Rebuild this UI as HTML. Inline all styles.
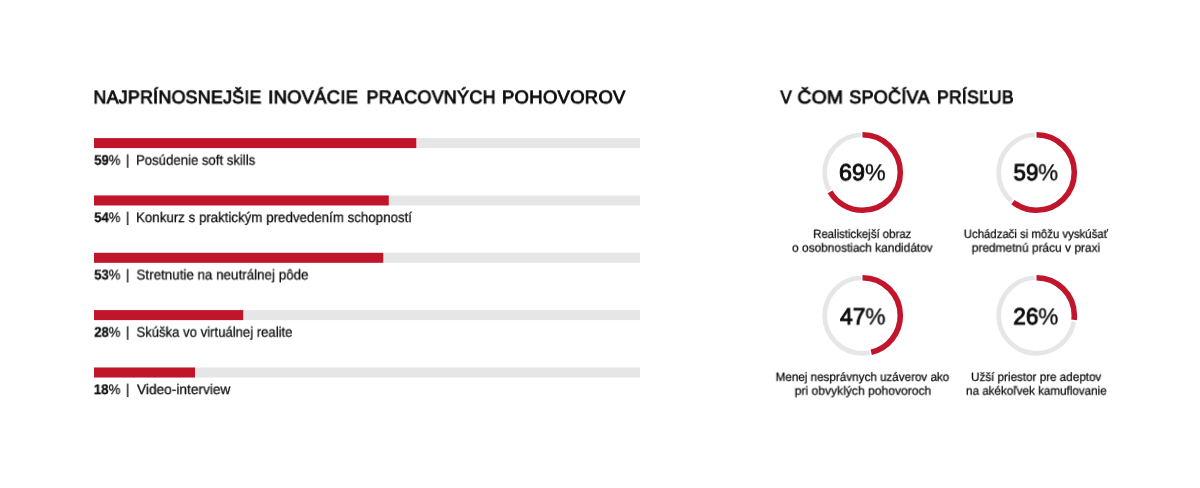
<!DOCTYPE html>
<html lang="sk">
<head>
<meta charset="utf-8">
<title>Inovácie pracovných pohovorov</title>
<style>
  html, body { margin: 0; padding: 0; }
  body { width: 1200px; height: 488px; position: relative; overflow: hidden; background: #ffffff;
         color: #0c0c0c; font-family: "Liberation Sans", sans-serif; }
  .t { position: absolute; white-space: nowrap; line-height: 1; transform-origin: 0 0; color: #0c0c0c; will-change: transform; text-rendering: geometricPrecision; }
  .t b { font-weight: 700; }
  .ti { -webkit-text-stroke: 0.85px #0c0c0c; letter-spacing: 0.3px; }
  .lb { color: #0c0c0c; -webkit-text-stroke: 0.25px #0c0c0c; }
  .lb b { color: #0c0c0c; }
  .cp { color: #0c0c0c; -webkit-text-stroke: 0.25px #0c0c0c; }
  .nu { color: #0c0c0c; -webkit-text-stroke: 0.3px #0c0c0c; }
  .nu b { font-weight: 400; -webkit-text-stroke: 0.95px #0c0c0c; }
  svg { position: absolute; left: 0; top: 0; }
  .txt { position: absolute; left: 0; top: 0; width: 1200px; height: 488px; will-change: transform; }
</style>
</head>
<body>
<svg width="1200" height="488" viewBox="0 0 1200 488">
<rect x="94" y="138.1" width="546" height="10" fill="#e6e6e6"/><rect x="94" y="138.1" width="322.25" height="10" fill="#c1152b"/>
<rect x="94" y="195.45" width="546" height="10" fill="#e6e6e6"/><rect x="94" y="195.45" width="294.75" height="10" fill="#c1152b"/>
<rect x="94" y="252.8" width="546" height="10" fill="#e6e6e6"/><rect x="94" y="252.8" width="289.25" height="10" fill="#c1152b"/>
<rect x="94" y="310.1" width="546" height="10" fill="#e6e6e6"/><rect x="94" y="310.1" width="149.25" height="10" fill="#c1152b"/>
<rect x="94" y="367.5" width="546" height="10" fill="#e6e6e6"/><rect x="94" y="367.5" width="101" height="10" fill="#c1152b"/>
</svg>
<svg width="1200" height="488" viewBox="0 0 1200 488"><g fill="none">
<circle cx="862.5" cy="172.5" r="37.8" stroke="#e6e6e6" stroke-width="4.7" pathLength="100" stroke-dasharray="0 67.10 32.20 100" transform="rotate(-90 862.5 172.5)"/>
<circle cx="862.5" cy="172.5" r="37.8" stroke="#c1152b" stroke-width="5.6" pathLength="100" stroke-dasharray="66.4 100" transform="rotate(-90 862.5 172.5)"/>
<circle cx="1036.5" cy="172.5" r="37.8" stroke="#e6e6e6" stroke-width="4.7" pathLength="100" stroke-dasharray="0 61.40 37.90 100" transform="rotate(-90 1036.5 172.5)"/>
<circle cx="1036.5" cy="172.5" r="37.8" stroke="#c1152b" stroke-width="5.6" pathLength="100" stroke-dasharray="60.7 100" transform="rotate(-90 1036.5 172.5)"/>
<circle cx="862.5" cy="315.5" r="37.8" stroke="#e6e6e6" stroke-width="4.7" pathLength="100" stroke-dasharray="0 47.00 52.30 100" transform="rotate(-90 862.5 315.5)"/>
<circle cx="862.5" cy="315.5" r="37.8" stroke="#c1152b" stroke-width="5.6" pathLength="100" stroke-dasharray="46.3 100" transform="rotate(-90 862.5 315.5)"/>
<circle cx="1036.5" cy="315.5" r="37.8" stroke="#e6e6e6" stroke-width="4.7" pathLength="100" stroke-dasharray="0 27.60 71.70 100" transform="rotate(-90 1036.5 315.5)"/>
<circle cx="1036.5" cy="315.5" r="37.8" stroke="#c1152b" stroke-width="5.6" pathLength="100" stroke-dasharray="26.9 100" transform="rotate(-90 1036.5 315.5)"/>
</g></svg>
<div class="txt">
<span class="t ti" style="left:93px;top:88px;font-size:18.2px;transform:translate(0.52px,0.30px) skewX(0.01deg) scaleX(0.9765)">NAJPRÍNOSNEJŠIE</span>
<span class="t ti" style="left:268px;top:88px;font-size:18.2px;transform:translate(0.24px,0.30px) skewX(0.01deg) scaleX(1.0086)">INOVÁCIE</span>
<span class="t ti" style="left:366px;top:88px;font-size:18.2px;transform:translate(0.52px,0.30px) skewX(0.01deg) scaleX(0.9845)">PRACOVNÝCH</span>
<span class="t ti" style="left:501px;top:88px;font-size:18.2px;transform:translate(0.99px,0.30px) skewX(0.01deg) scaleX(1.0145)">POHOVOROV</span>
<span class="t ti" style="left:780px;top:88px;font-size:18.2px;transform:translate(0.46px,0.30px) skewX(0.01deg) scaleX(0.9231)">V</span>
<span class="t ti" style="left:797px;top:88px;font-size:18.2px;transform:translate(0.47px,0.30px) skewX(0.01deg) scaleX(1.0602)">ČOM</span>
<span class="t ti" style="left:849px;top:88px;font-size:18.2px;transform:translate(0.25px,0.30px) skewX(0.01deg) scaleX(0.9877)">SPOČÍVA</span>
<span class="t ti" style="left:937px;top:88px;font-size:18.2px;transform:translate(0.04px,0.30px) skewX(0.01deg) scaleX(0.9615)">PRÍSĽUB</span>
<span class="t lb" style="left:94px;top:152px;font-size:14px;transform:translate(0.27px,0.75px) skewX(0.01deg) scaleX(0.9358)"><b>59</b>%</span>
<span class="t lb" style="left:125px;top:152px;font-size:14px;transform:translate(0.75px,0.75px) skewX(0.01deg) scaleX(1.0000)">|</span>
<span class="t lb" style="left:136px;top:152px;font-size:14px;transform:translate(0.06px,0.75px) skewX(0.01deg) scaleX(0.9402)">Posúdenie soft skills</span>
<span class="t lb" style="left:94px;top:210px;font-size:14px;transform:translate(0.27px,0.10px) skewX(0.01deg) scaleX(0.9358)"><b>54</b>%</span>
<span class="t lb" style="left:125px;top:210px;font-size:14px;transform:translate(0.75px,0.10px) skewX(0.01deg) scaleX(1.0000)">|</span>
<span class="t lb" style="left:136px;top:210px;font-size:14px;transform:translate(0.05px,0.10px) skewX(0.01deg) scaleX(0.9507)">Konkurz s praktickým predvedením schopností</span>
<span class="t lb" style="left:94px;top:267px;font-size:14px;transform:translate(0.27px,0.45px) skewX(0.01deg) scaleX(0.9358)"><b>53</b>%</span>
<span class="t lb" style="left:125px;top:267px;font-size:14px;transform:translate(0.75px,0.45px) skewX(0.01deg) scaleX(1.0000)">|</span>
<span class="t lb" style="left:136px;top:267px;font-size:14px;transform:translate(0.52px,0.45px) skewX(0.01deg) scaleX(0.9566)">Stretnutie na neutrálnej pôde</span>
<span class="t lb" style="left:94px;top:324px;font-size:14px;transform:translate(0.27px,0.75px) skewX(0.01deg) scaleX(0.9358)"><b>28</b>%</span>
<span class="t lb" style="left:125px;top:324px;font-size:14px;transform:translate(0.75px,0.75px) skewX(0.01deg) scaleX(1.0000)">|</span>
<span class="t lb" style="left:136px;top:324px;font-size:14px;transform:translate(0.53px,0.75px) skewX(0.01deg) scaleX(0.9366)">Skúška vo virtuálnej realite</span>
<span class="t lb" style="left:93px;top:382px;font-size:14px;transform:translate(0.79px,0.10px) skewX(0.01deg) scaleX(0.9533)"><b>18</b>%</span>
<span class="t lb" style="left:125px;top:382px;font-size:14px;transform:translate(0.75px,0.10px) skewX(0.01deg) scaleX(1.0000)">|</span>
<span class="t lb" style="left:137px;top:382px;font-size:14px;transform:translate(0.00px,0.10px) skewX(0.01deg) scaleX(0.9791)">Video-interview</span>
<span class="t nu" style="left:838px;top:161px;font-size:23.2px;transform:translate(1.00px,0.25px) skewX(0.01deg) scaleX(1.0056)"><b>69</b>%</span>
<span class="t nu" style="left:1013px;top:161px;font-size:23.2px;transform:translate(0.52px,0.25px) skewX(0.01deg) scaleX(0.9613)"><b>59</b>%</span>
<span class="t nu" style="left:840px;top:305px;font-size:23.2px;transform:translate(0.00px,0.35px) skewX(0.01deg) scaleX(0.9836)"><b>47</b>%</span>
<span class="t nu" style="left:1013px;top:305px;font-size:23.2px;transform:translate(0.27px,0.35px) skewX(0.01deg) scaleX(0.9722)"><b>26</b>%</span>
<span class="t cp" style="left:813px;top:227px;font-size:12px;transform:translate(0.19px,0.90px) skewX(0.01deg) scaleX(0.9496)">Realistickejší obraz</span>
<span class="t cp" style="left:792px;top:241px;font-size:12px;transform:translate(0.11px,0.70px) skewX(0.01deg) scaleX(0.9891)">o osobnostiach kandidátov</span>
<span class="t cp" style="left:963px;top:227px;font-size:12px;transform:translate(0.79px,0.90px) skewX(0.01deg) scaleX(0.9488)">Uchádzači si môžu vyskúšať</span>
<span class="t cp" style="left:971px;top:241px;font-size:12px;transform:translate(0.76px,0.70px) skewX(0.01deg) scaleX(0.9922)">predmetnú prácu v praxi</span>
<span class="t cp" style="left:775px;top:370px;font-size:12px;transform:translate(0.67px,0.90px) skewX(0.01deg) scaleX(0.9710)">Menej nesprávnych uzáverov ako</span>
<span class="t cp" style="left:794px;top:384px;font-size:12px;transform:translate(0.74px,0.70px) skewX(0.01deg) scaleX(1.0075)">pri obvyklých pohovoroch</span>
<span class="t cp" style="left:971px;top:370px;font-size:12px;transform:translate(0.02px,0.90px) skewX(0.01deg) scaleX(0.9719)">Užší priestor pre adeptov</span>
<span class="t cp" style="left:966px;top:384px;font-size:12px;transform:translate(0.02px,0.70px) skewX(0.01deg) scaleX(0.9704)">na akékoľvek kamuflovanie</span>
</div>
</body>
</html>
